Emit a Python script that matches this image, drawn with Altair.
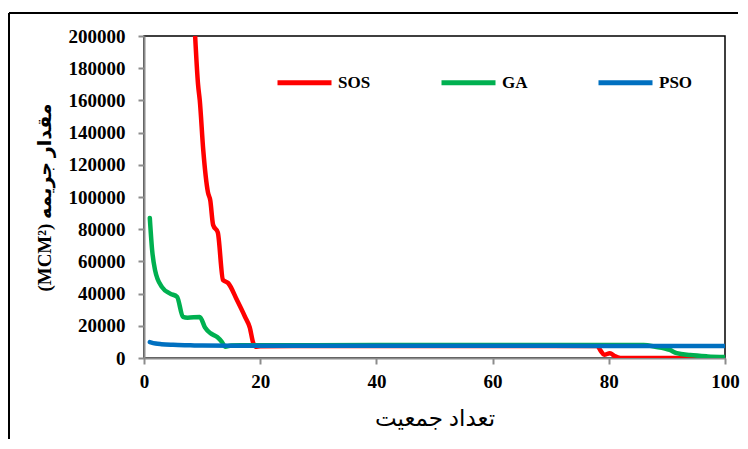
import altair as alt
import pandas as pd

# SOS series
sos_x = [8.8, 9.3, 9.6, 10.2, 11.0, 11.4, 11.9, 12.7, 13.6, 14.5, 16.0, 17.4, 18.2, 18.8, 19.2,
         20, 30, 40, 50, 60, 70, 78, 78.6, 79.2, 80.2, 81.0, 82, 90, 100]
sos_y = [200000, 170000, 160000, 129000, 103000, 98000, 82600, 78000, 48400, 46500, 36000, 25500,
         19000, 9300, 7000, 7300, 7400, 7400, 7400, 7400, 7400, 7400, 4500, 2000, 3000, 1200, 0, 0, 0]

# GA series
ga_x = [1, 1.4, 1.9, 3.1, 4.5, 5.7, 6.7, 7.5, 9.6, 10.5, 11.4, 12.6, 13.4, 14, 15, 20, 40, 60,
        80, 86, 88, 90.5, 91.7, 94, 97, 100]
ga_y = [87000, 67000, 54600, 44000, 40000, 38000, 25500, 25000, 25500, 19000, 15500, 13000, 10000,
        7000, 7800, 7900, 8000, 8000, 8000, 8000, 7000, 5000, 3000, 1800, 1000, 600]

# PSO series
pso_x = [1, 2, 3, 5, 8, 10, 20, 40, 60, 80, 100]
pso_y = [9900, 9000, 8600, 8200, 7900, 7700, 7600, 7600, 7600, 7500, 7500]

series_names = ["SOS", "GA", "PSO"]
series_colors = ["#FF0000", "#00B050", "#0070C0"]
x_ticks = [0, 20, 40, 60, 80, 100]
y_ticks = list(range(0, 200001, 20000))

x_title = "تعداد جمعیت"
y_title = "(MCM²) مقدار جریمه"

rows = []
for name, xs, ys in [("SOS", sos_x, sos_y), ("GA", ga_x, ga_y), ("PSO", pso_x, pso_y)]:
    for i, (a, b) in enumerate(zip(xs, ys)):
        rows.append({"series": name, "x": a, "y": b, "i": i})
df = pd.DataFrame(rows)

FONT = "Liberation Serif, DejaVu Sans"

color = alt.Color(
    "series:N",
    scale=alt.Scale(domain=series_names, range=series_colors),
    legend=alt.Legend(
        title=None, orient="none", direction="horizontal", legendX=131, legendY=17,
        symbolType="stroke", symbolSize=2916, symbolStrokeWidth=5, labelFont=FONT,
        labelFontSize=17, labelFontWeight="bold", labelColor="black", labelOffset=4,
        columnPadding=60, padding=0,
    ),
)

xenc = alt.X("x:Q", scale=alt.Scale(domain=[0, 100], nice=False),
             axis=alt.Axis(values=x_ticks, title=x_title, grid=False, format="d"))
yenc = alt.Y("y:Q", scale=alt.Scale(domain=[0, 200000], nice=False),
             axis=alt.Axis(values=y_ticks, title=y_title, grid=False, format="d"))

layers = []
for name in series_names:
    layers.append(
        alt.Chart(df).transform_filter(alt.datum.series == name)
        .mark_line(strokeWidth=4.5, interpolate="monotone", strokeCap="round", clip=True)
        .encode(x=xenc, y=yenc, color=color, order="i:Q")
    )

one = pd.DataFrame({"a": [0]})
frame_top = alt.Chart(one).mark_rule(stroke="black", strokeWidth=2).encode(
    x=alt.value(-135), x2=alt.value(594), y=alt.value(-23))
frame_left = alt.Chart(one).mark_rule(stroke="black", strokeWidth=2).encode(
    x=alt.value(-135), y=alt.value(-23), y2=alt.value(403))

chart = alt.layer(frame_top, frame_left, *layers).properties(
    width=581, height=322,
    padding={"left": 0, "top": 4, "right": 0, "bottom": 0},
).configure_view(
    stroke="black", strokeWidth=1.5
).configure_axis(
    labelFont=FONT, labelFontSize=19, labelFontWeight="bold", labelColor="black",
    labelFlush=False,
    titleFont=FONT, titleColor="black",
    domainColor="#8c8c8c", domainWidth=2, tickColor="#8c8c8c", tickWidth=2, tickSize=6,
).configure_axisX(
    labelPadding=8, titleFontSize=23, titleFontWeight="normal", titlePadding=16,
).configure_axisY(
    labelPadding=13, titleFontSize=19, titleFontWeight="bold", titlePadding=14,
)

chart.save("out.html", embed_options={"renderer": "svg", "actions": False})
